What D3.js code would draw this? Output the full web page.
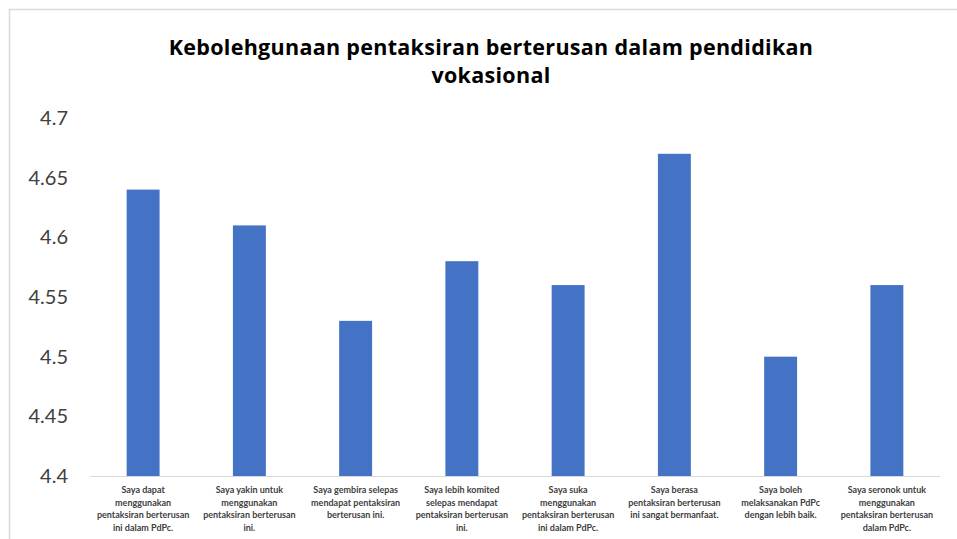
<!DOCTYPE html>
<html>
<head>
<meta charset="utf-8">
<script src="https://cdn.jsdelivr.net/npm/d3@7"></script>
<style>
  body { margin: 0; background: #fff; }
  svg { display: block; }
</style>
</head>
<body>
<div id="chart"></div>
<script>
var title = ['Kebolehgunaan pentaksiran berterusan dalam pendidikan', 'vokasional'];
var categories = [
  ['Saya dapat', 'menggunakan', 'pentaksiran berterusan', 'ini dalam PdPc.'],
  ['Saya yakin untuk', 'menggunakan', 'pentaksiran berterusan', 'ini.'],
  ['Saya gembira selepas', 'mendapat pentaksiran', 'berterusan ini.'],
  ['Saya lebih komited', 'selepas mendapat', 'pentaksiran berterusan', 'ini.'],
  ['Saya suka', 'menggunakan', 'pentaksiran berterusan', 'ini dalam PdPc.'],
  ['Saya berasa', 'pentaksiran berterusan', 'ini sangat bermanfaat.'],
  ['Saya boleh', 'melaksanakan PdPc', 'dengan lebih baik.'],
  ['Saya seronok untuk', 'menggunakan', 'pentaksiran berterusan', 'dalam PdPc.']
];
var values = [4.64, 4.61, 4.53, 4.58, 4.56, 4.67, 4.50, 4.56];
var yTicks = [4.4, 4.45, 4.5, 4.55, 4.6, 4.65, 4.7];

var W = 957, H = 539;
var margin = { top: 118, right: 17, bottom: 63, left: 90 };
var width = W - margin.left - margin.right,
    height = H - margin.top - margin.bottom;

var svg = d3.select('#chart').append('svg').attr('width', W).attr('height', H);

// chart frame
svg.append('rect').attr('x', 9.5).attr('y', 9.5).attr('width', W + 20).attr('height', H + 20)
  .attr('fill', '#fff').attr('stroke', '#d9d9d9').attr('stroke-width', 1.5);

svg.append('text').attr('x', 491).attr('y', 0)
  .attr('text-anchor', 'middle')
  .style('font-family', 'Open Sans, sans-serif').style('font-weight', 'bold')
  .style('font-size', '21.5px').attr('fill', '#000')
  .selectAll('tspan').data(title).enter().append('tspan')
  .attr('x', 491).attr('y', function (d, i) { return 55 + i * 28; })
  .attr('letter-spacing', '0.3')
  .text(function (d) { return d; });

var idx = d3.range(values.length);
var xScale = d3.scaleBand().domain(idx).range([0, width]).paddingInner(0.69).paddingOuter(0.345);
var yScale = d3.scaleLinear().domain([4.4, 4.7]).range([height, 0]);

var g = svg.append('g').attr('transform', 'translate(' + margin.left + ',' + margin.top + ')');

g.selectAll('rect.bar').data(values).enter().append('rect').classed('bar', true)
  .attr('x', function (d, i) { return xScale(i); })
  .attr('y', function (d) { return yScale(d); })
  .attr('width', xScale.bandwidth())
  .attr('height', function (d) { return height - yScale(d); })
  .attr('fill', '#4472c4');

var yAxis = d3.axisLeft(yScale).tickValues(yTicks).tickSize(0).tickPadding(22)
  .tickFormat(function (d) { return String(+d.toFixed(2)); });
var ya = g.append('g').call(yAxis);
ya.select('.domain').remove();
ya.selectAll('text').style('font-family', 'Lato, sans-serif').style('font-size', '20px').attr('fill', '#404040');

g.append('line').attr('x1', 0).attr('x2', width).attr('y1', height + 0.5).attr('y2', height + 0.5)
  .attr('stroke', '#d9d9d9').attr('stroke-width', 1);

var lab = g.selectAll('text.cat').data(categories).enter().append('text').classed('cat', true)
  .attr('text-anchor', 'middle')
  .style('font-family', 'Lato, sans-serif').style('font-size', '9px').style('font-weight', 'bold')
  .attr('fill', '#404040');
lab.selectAll('tspan').data(function (d, i) { return d.map(function (t) { return { t: t, i: i }; }); })
  .enter().append('tspan')
  .attr('x', function (d) { return xScale(d.i) + xScale.bandwidth() / 2; })
  .attr('y', function (d, j) { return height + 17 + j * 12.5; })
  .text(function (d) { return d.t; });
</script>
</body>
</html>
